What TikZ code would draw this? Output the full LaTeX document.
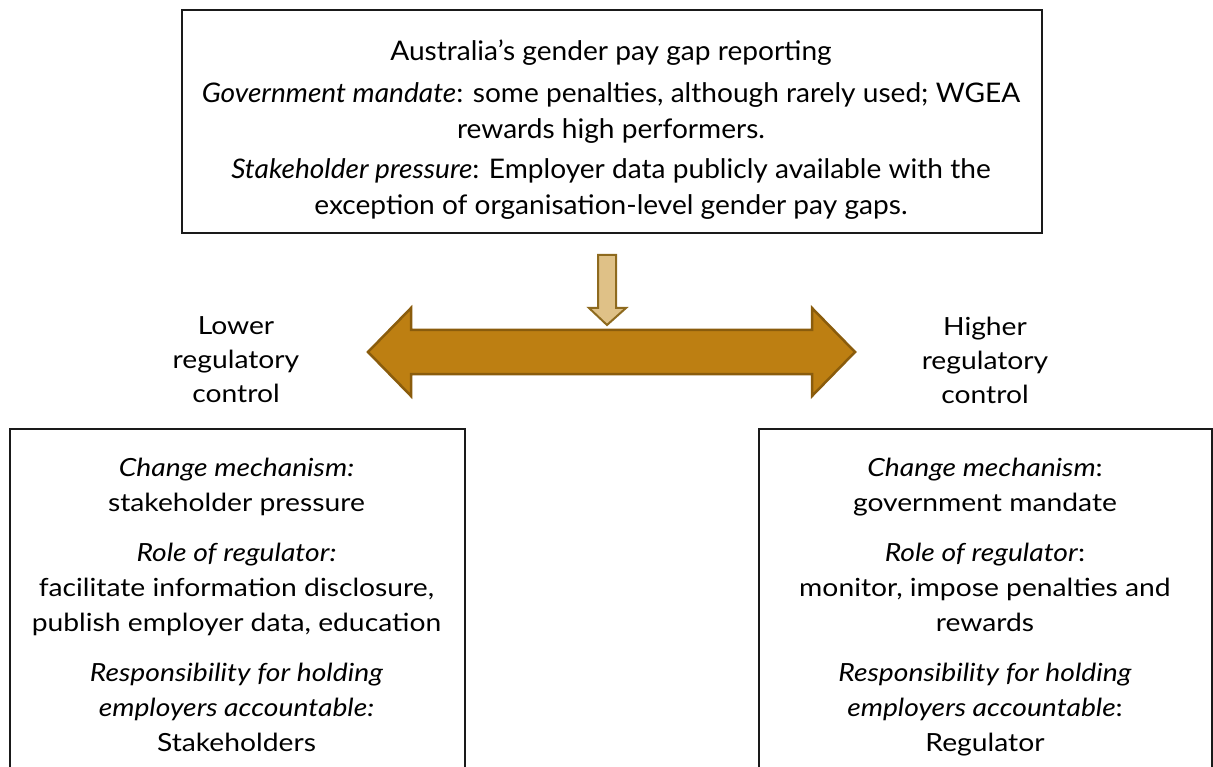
\documentclass[tikz,border=0pt]{standalone}
\usepackage{fontspec}
\setmainfont{Lato}[FakeStretch=1.13]
\newfontfamily\headfont[FakeStretch=1.04]{Lato}
\definecolor{arrowgold}{HTML}{BD7F12}
\definecolor{arrowedge}{HTML}{8A5C0C}
\definecolor{pointerfill}{HTML}{DFC187}
\definecolor{pointeredge}{HTML}{8E6A1E}
\definecolor{boxedge}{HTML}{1A1A1A}
\begin{document}
\begin{tikzpicture}[x=1pt,y=-1pt,
  frame/.style={draw=boxedge,line width=2pt,inner sep=0pt,anchor=north west},
  body/.style={align=center,inner sep=0pt,font=\fontsize{25}{35}\selectfont},
  headtext/.style={align=center,inner sep=0pt,font=\headfont\fontsize{27}{36}\selectfont},
  sidelabel/.style={align=center,inner sep=0pt,font=\fontsize{25}{34}\selectfont}]
\useasboundingbox (0,0) rectangle (1213,767);
\clip (0,0) rectangle (1213,767);

% overview box
\node[frame,minimum width=860pt,minimum height=223pt] (topframe) at (181,9) {};
\node[headtext] (toptext) at (611,130) {Australia’s gender pay gap reporting\\[6pt]
  \textit{Government mandate}: some penalties, although rarely used; WGEA\\
  rewards high performers.\\[4pt]
  \textit{Stakeholder pressure}: Employer data publicly available with the\\
  exception of organisation-level gender pay gaps.};

% pointer from overview to the scale
\draw[fill=pointerfill,draw=pointeredge,line width=2pt,line join=miter]
  (598,255) -- (616,255) -- (616,308) -- (626,308) -- (607,325) -- (589,308) -- (598,308) -- cycle;

% regulatory control scale
\draw[fill=arrowgold,draw=arrowedge,line width=2.5pt,line join=miter]
  (368,352) -- (411,308) -- (411,330) -- (812,330) -- (812,308) -- (855,352)
  -- (812,396) -- (812,374) -- (411,374) -- (411,396) -- cycle;

\node[sidelabel] (lowlab) at (236,360) {Lower\\regulatory\\control};
\node[sidelabel] (highlab) at (985,360) {Higher\\regulatory\\control};

% lower control panel
\node[frame,minimum width=455pt,minimum height=400pt] (leftframe) at (9,428) {};
\node[body,anchor=north] (lefttext) at (236.5,458) {\textit{Change mechanism:}\\
  stakeholder pressure\\[15pt]
  \textit{Role of regulator:}\\
  facilitate information disclosure,\\
  publish employer data, education\\[15pt]
  \textit{Responsibility for holding}\\
  \textit{employers accountable:}\\
  Stakeholders};

% higher control panel
\node[frame,minimum width=453pt,minimum height=400pt] (rightframe) at (758,428) {};
\node[body,anchor=north] (righttext) at (985,458) {\textit{Change mechanism}:\\
  government mandate\\[15pt]
  \textit{Role of regulator}:\\
  monitor, impose penalties and\\
  rewards\\[15pt]
  \textit{Responsibility for holding}\\
  \textit{employers accountable}:\\
  Regulator};
\end{tikzpicture}
\end{document}
